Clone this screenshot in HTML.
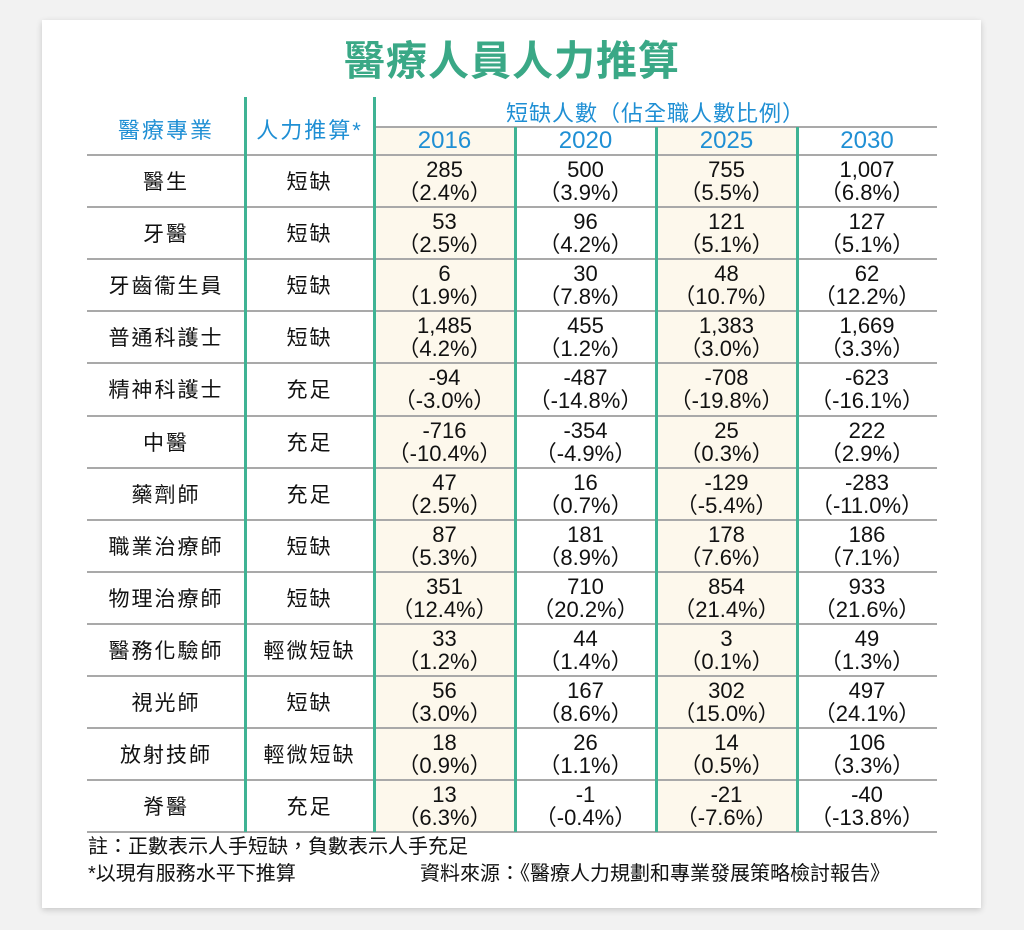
<!DOCTYPE html>
<html><head><meta charset="utf-8">
<style>
body{margin:0;width:1024px;height:930px;background:#f2f2f2;position:relative;overflow:hidden;font-family:"Liberation Sans","Noto Sans CJK TC",sans-serif;}
#card{position:absolute;left:42px;top:20px;width:939px;height:888px;background:#fff;box-shadow:0 2px 6px rgba(0,0,0,0.18);}
.abs{position:absolute;}
.title{left:0;width:1024px;top:34px;text-align:center;font-size:41px;font-weight:bold;color:#3aa886;letter-spacing:1px;line-height:54px;}
.hdr{color:#1f8fd4;font-size:22px;text-align:center;}
.cell{text-align:center;color:#111;font-size:22px;line-height:23px;}
.name{text-align:center;color:#111;font-size:21px;letter-spacing:2px;line-height:52px;}
.hl{height:2px;background:#a9a9a9;}
.vl{width:3px;background:#3fb394;}
.bg{background:#fdf8ec;}
.note{font-size:20px;color:#111;line-height:24px;}
</style></head><body>
<div id="card"></div>
<div class="abs title">醫療人員人力推算</div>
<div id="table"></div>
<div class="abs note" style="left:88px;top:835px;">註：正數表示人手短缺，負數表示人手充足</div>
<div class="abs note" style="left:88px;top:862px;">*以現有服務水平下推算</div>
<div class="abs note" style="left:420px;top:862px;">資料來源：《醫療人力規劃和專業發展策略檢討報告》</div>
<script>
const years=["2016","2020","2025","2030"];
const professions=["醫生","牙醫","牙齒衞生員","普通科護士","精神科護士","中醫","藥劑師","職業治療師","物理治療師","醫務化驗師","視光師","放射技師","脊醫"];
const status=["短缺","短缺","短缺","短缺","充足","充足","充足","短缺","短缺","輕微短缺","短缺","輕微短缺","充足"];
const counts=[["285","500","755","1,007"],["53","96","121","127"],["6","30","48","62"],["1,485","455","1,383","1,669"],["-94","-487","-708","-623"],["-716","-354","25","222"],["47","16","-129","-283"],["87","181","178","186"],["351","710","854","933"],["33","44","3","49"],["56","167","302","497"],["18","26","14","106"],["13","-1","-21","-40"]];
const pcts=[["2.4%","3.9%","5.5%","6.8%"],["2.5%","4.2%","5.1%","5.1%"],["1.9%","7.8%","10.7%","12.2%"],["4.2%","1.2%","3.0%","3.3%"],["-3.0%","-14.8%","-19.8%","-16.1%"],["-10.4%","-4.9%","0.3%","2.9%"],["2.5%","0.7%","-5.4%","-11.0%"],["5.3%","8.9%","7.6%","7.1%"],["12.4%","20.2%","21.4%","21.6%"],["1.2%","1.4%","0.1%","1.3%"],["3.0%","8.6%","15.0%","24.1%"],["0.9%","1.1%","0.5%","3.3%"],["6.3%","-0.4%","-7.6%","-13.8%"]];
const T=document.getElementById('table');
const colX=[87,245,374,515,656,797,937];
const top0=155,rowH=52.1;
const bottom=top0+rowH*professions.length;
function mk(cls,l,t,w,h,html){const d=document.createElement('div');d.className='abs '+cls;d.style.left=l+'px';d.style.top=t+'px';if(w!=null)d.style.width=w+'px';if(h!=null)d.style.height=h+'px';if(html!=null)d.innerHTML=html;T.appendChild(d);return d;}
[0,2].forEach(i=>{const d=mk('bg',colX[2+i],127,colX[3+i]-colX[2+i],bottom-127);

});
let h=mk('hdr',colX[0],113,colX[1]-colX[0],null,'醫療專業');h.style.letterSpacing='2px';


h=mk('hdr',colX[1],113,colX[2]-colX[1],null,'人力推算*');h.style.letterSpacing='2px';


h=mk('hdr',colX[2],96,colX[6]-colX[2],null,'短缺人數（佔全職人數比例）');h.style.letterSpacing='1px';


years.forEach((y,i)=>{const d=mk('hdr',colX[2+i],127,colX[3+i]-colX[2+i],null,y);d.style.fontSize='24px';

});
let l=mk('hl',colX[2],126,colX[6]-colX[2],2);


for(let r=0;r<=professions.length;r++){const d=mk('hl',colX[0],top0+r*rowH-1,colX[6]-colX[0],2);

}
[1,2].forEach(i=>{const d=mk('vl',colX[i]-1,97,3,bottom-97);

});
[3,4,5].forEach(i=>{const d=mk('vl',colX[i]-1,127,3,bottom-127);

});
professions.forEach((p,r)=>{const t=top0+r*rowH;
const n=mk('name',colX[0],t+2,colX[1]-colX[0],rowH,p);


const s=mk('name',colX[1],t+2,colX[2]-colX[1],rowH,status[r]);


years.forEach((y,i)=>{const c=mk('cell',colX[2+i],t+3,colX[3+i]-colX[2+i],null,counts[r][i]+'<br>（'+pcts[r][i]+'）');

});
});
</script>
</body></html>
